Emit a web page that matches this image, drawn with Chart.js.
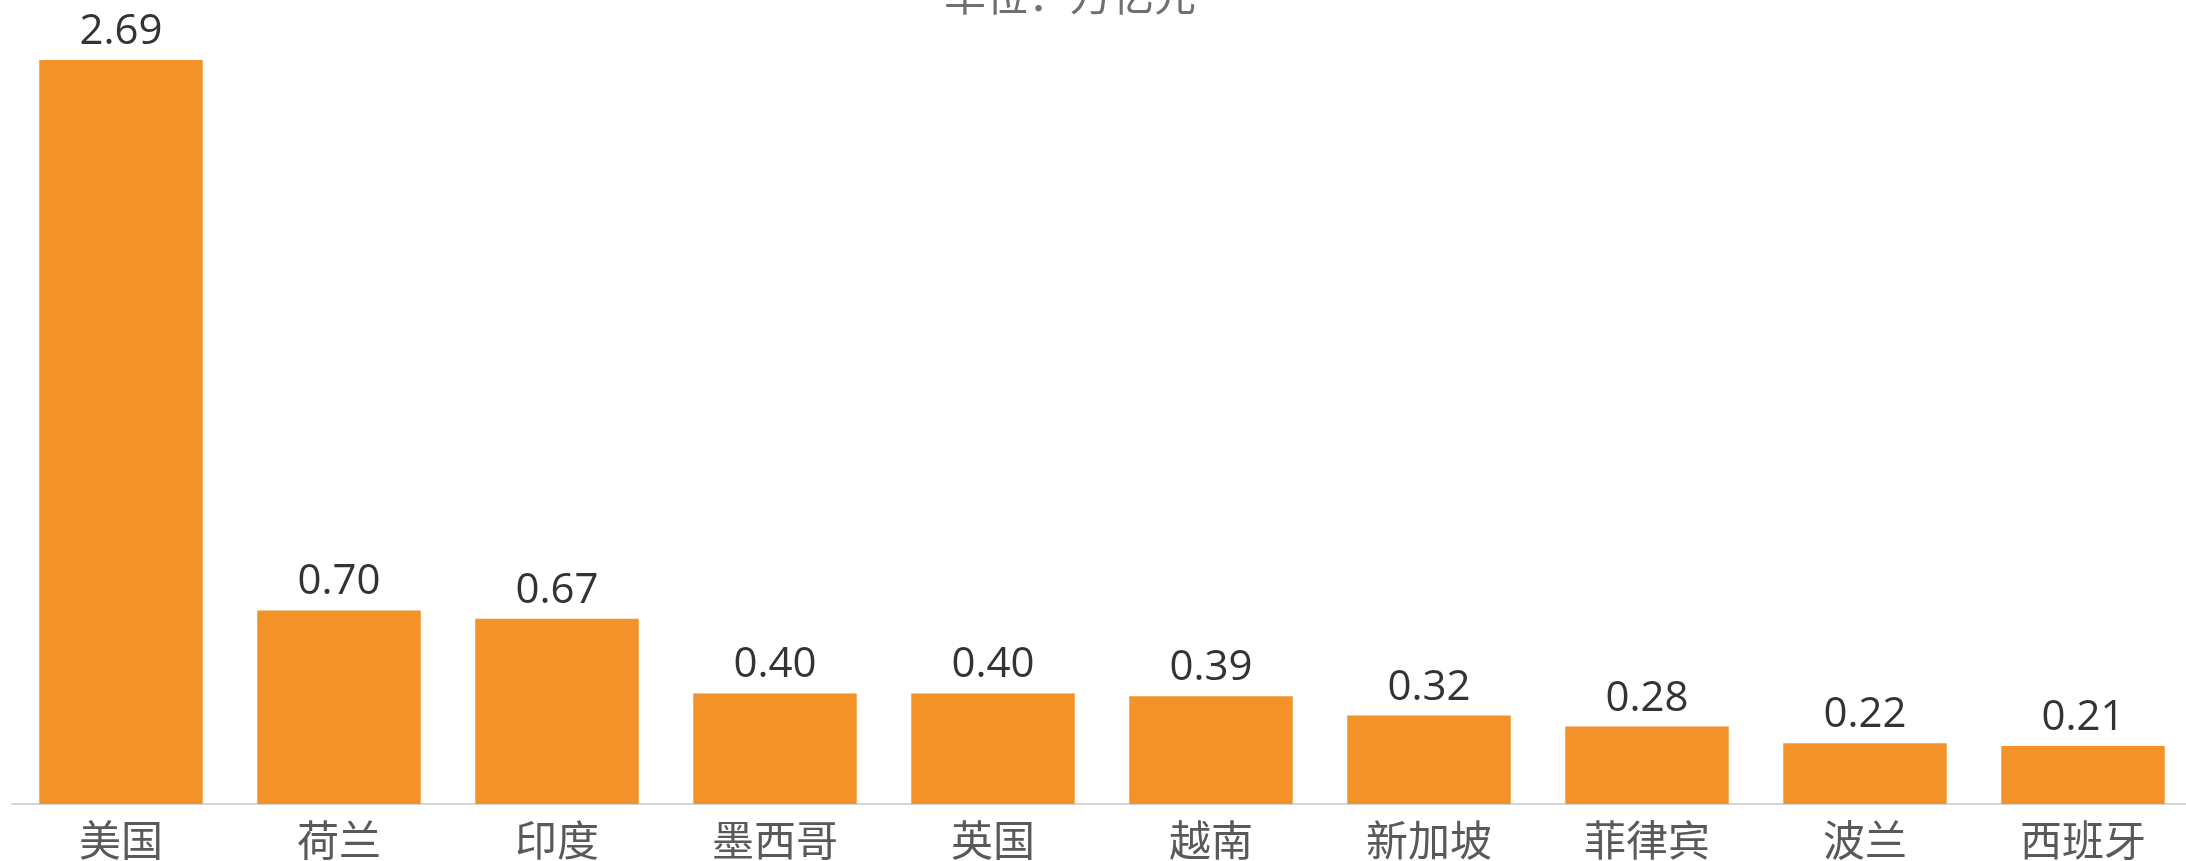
<!DOCTYPE html>
<html>
<head>
<meta charset="utf-8">
<script src="https://cdn.jsdelivr.net/npm/chart.js@4/dist/chart.umd.min.js"></script>
<style>
  html, body { margin: 0; padding: 0; background: #fff; overflow: hidden; }
  #wrap { position: relative; width: 2200px; height: 861px; }
</style>
</head>
<body>
<div id="wrap"><canvas id="exportChart" width="2200" height="861"></canvas></div>
<script>
const countries = ['美国', '荷兰', '印度', '墨西哥', '英国', '越南', '新加坡', '菲律宾', '波兰', '西班牙'];
const amounts = [2.69, 0.70, 0.67, 0.40, 0.40, 0.39, 0.32, 0.28, 0.22, 0.21];
const unitText = '单位：万亿元';

const FONT = "'Open Sans', 'Noto Sans CJK SC', sans-serif";

// value above each bar
const valueLabels = {
    id: 'valueLabels',
    afterDatasetsDraw(chart) {
        const ctx = chart.ctx;
        const meta = chart.getDatasetMeta(0);
        ctx.save();
        ctx.font = '42px ' + FONT;
        ctx.fillStyle = '#333333';
        ctx.textAlign = 'center';
        ctx.textBaseline = 'alphabetic';
        meta.data.forEach((bar, i) => {
            ctx.fillText(amounts[i].toFixed(2), bar.x, bar.y - 16);
        });
        ctx.restore();
    }
};

// unit caption, cut off by the top edge
const unitCaption = {
    id: 'unitCaption',
    afterDraw(chart) {
        const ctx = chart.ctx;
        ctx.save();
        ctx.font = '42px ' + FONT;
        ctx.fillStyle = '#6f6f6f';
        ctx.textAlign = 'center';
        ctx.textBaseline = 'alphabetic';
        ctx.fillText(unitText, 1070, 11);
        ctx.restore();
    }
};

const ctxExport = document.getElementById('exportChart').getContext('2d');
new Chart(ctxExport, {
    type: 'bar',
    data: {
        labels: countries,
        datasets: [{
            data: amounts,
            backgroundColor: '#F29229',
            barPercentage: 0.75,
            categoryPercentage: 1.0
        }]
    },
    options: {
        responsive: false,
        animation: false,
        layout: { padding: { left: 12, right: 8, top: 2, bottom: 0 } },
        plugins: {
            legend: { display: false },
            tooltip: { enabled: false }
        },
        scales: {
            x: {
                // tick marks are hidden with the grid, but their length still pushes the labels down
                grid: { display: false, drawTicks: true, tickLength: 23 },
                border: { display: true, color: '#d6d6d6', width: 2 },
                ticks: {
                    color: '#595959',
                    font: { family: FONT, size: 42, lineHeight: 0.57 },
                    padding: 5,
                    maxRotation: 0
                }
            },
            y: {
                display: false,
                min: 0,
                max: 2.9
            }
        }
    },
    plugins: [valueLabels, unitCaption]
});
</script>
</body>
</html>
